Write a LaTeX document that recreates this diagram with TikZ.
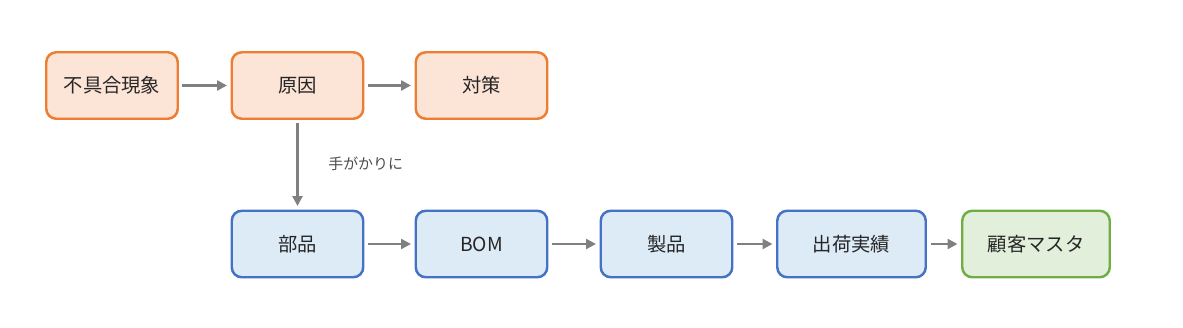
\documentclass[tikz,border=0pt]{standalone}
\usepackage{xcolor}
\usepackage{fontspec}
\setmainfont{Noto Sans CJK JP}
\usetikzlibrary{arrows.meta, positioning}

\definecolor{issueline}{HTML}{ED7D31}
\definecolor{issuefill}{HTML}{FCE4D6}
\definecolor{dataline}{HTML}{4472C4}
\definecolor{datafill}{HTML}{DDEBF7}
\definecolor{custline}{HTML}{70AD47}
\definecolor{custfill}{HTML}{E2EFDA}
\definecolor{flowgray}{HTML}{808080}

\begin{document}
\begin{tikzpicture}[>={Triangle[length=0.2cm,width=0.2cm]},
  every node/.style={font=\fontsize{11}{13}\selectfont, text=black!85},
  box/.style={rectangle, rounded corners=0.2cm, line width=1.4pt, minimum width=2.63cm, minimum height=1.33cm},
  issue/.style={box, draw=issueline, fill=issuefill},
  datab/.style={box, draw=dataline, fill=datafill},
  cust/.style={box, draw=custline, fill=custfill},
  flow/.style={->, draw=flowgray, line width=1.4pt, shorten <=2pt, shorten >=2pt}]

\useasboundingbox (0,0) rectangle (23.66,6.54);

% Upper row (orange)
\node[issue] (defect) at (2.24,4.83) {不具合現象};
\node[issue] (cause) at (5.95,4.83) {原因};
\node[issue] (measure) at (9.63,4.83) {対策};

% Lower row (blue)
\node[datab] (part) at (5.95,1.66) {部品};
\node[datab] (bom) at (9.63,1.66) {BOM};
\node[datab] (product) at (13.33,1.66) {製品};
\node[datab, minimum width=2.97cm] (shipment) at (17.03,1.66) {出荷実績};

% Customer master (green)
\node[cust, minimum width=2.95cm] (customer) at (20.72,1.66) {顧客マスタ};

% Connections (upper row)
\draw[flow] (defect) -- (cause);
\draw[flow] (cause) -- (measure);

% Cause to part
\draw[flow] (cause) -- (part);
\node[anchor=west, inner sep=0pt, font=\fontsize{8.5}{10}\selectfont, text=black!70] (hint) at (6.56,3.26) {手がかりに};

% Connections (lower row)
\draw[flow] (part) -- (bom);
\draw[flow] (bom) -- (product);
\draw[flow] (product) -- (shipment);
\draw[flow] (shipment) -- (customer);

\end{tikzpicture}
\end{document}
